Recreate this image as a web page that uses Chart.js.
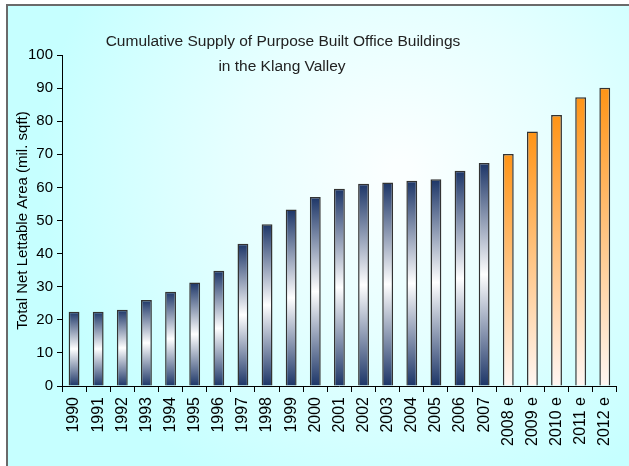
<!DOCTYPE html>
<html>
<head>
<meta charset="utf-8">
<script src="https://cdn.jsdelivr.net/npm/chart.js@4/dist/chart.umd.min.js"></script>
<style>
  body { margin: 0; background: #fff; }
  canvas { display: block; }
</style>
</head>
<body>
<canvas id="supplyChart" width="629" height="466"></canvas>
<script>
// categories and values (mil. sqft)
const years = ['1990', '1991', '1992', '1993', '1994', '1995', '1996', '1997', '1998', '1999',
    '2000', '2001', '2002', '2003', '2004', '2005', '2006', '2007',
    '2008 e', '2009 e', '2010 e', '2011 e', '2012 e'];
const supply = [22.4, 22.4, 23.0, 26.0, 28.5, 31.3, 34.8, 43.0, 48.9, 53.3,
    57.1, 59.6, 61.1, 61.5, 62.0, 62.5, 65.0, 67.4,
    70.1, 76.9, 81.9, 87.2, 90.1];
const titleLines = ['Cumulative Supply of Purpose Built Office Buildings', 'in the Klang Valley'];
const yTitle = 'Total Net Lettable Area (mil. sqft)';

// estimates are the ones marked with "e"
const estimated = years.map(y => y.endsWith('e'));

const fontFamily = '"Liberation Sans", Arial, sans-serif';
const navy = '#1c3567';
const orange = '#ff9416';

// gradient per bar: navy-white-navy for actuals, orange-white for estimates
function barFill(ctx) {
    const chart = ctx.chart;
    const y = chart.scales.y;
    if (!chart.chartArea || !y || ctx.raw === undefined) return navy;
    const top = y.getPixelForValue(ctx.raw);
    const base = y.getPixelForValue(0);
    const g = chart.ctx.createLinearGradient(0, top, 0, base);
    if (estimated[ctx.dataIndex]) {
        g.addColorStop(0, orange);
        g.addColorStop(1, '#fff6f2');
    } else {
        g.addColorStop(0, navy);
        g.addColorStop(0.5, '#ffffff');
        g.addColorStop(1, navy);
    }
    return g;
}

// background, frame and the two-line title
const framePlugin = {
    id: 'frame',
    beforeDraw(chart) {
        const c = chart.ctx;
        c.save();
        c.fillStyle = '#ffffff';
        c.fillRect(0, 0, chart.width, chart.height);
        const g = c.createRadialGradient(400, 170, 10, 400, 170, 360);
        g.addColorStop(0, '#fbffff');
        g.addColorStop(0.45, '#e6ffff');
        g.addColorStop(1, '#c6ffff');
        c.fillStyle = g;
        c.fillRect(7, 5, chart.width - 7, chart.height - 5);
        c.strokeStyle = '#6a6a6a';
        c.lineWidth = 2;
        c.beginPath();
        c.moveTo(7, chart.height);
        c.lineTo(7, 5);
        c.lineTo(chart.width, 5);
        c.stroke();
        c.restore();
    },
    afterDraw(chart) {
        const c = chart.ctx;
        c.save();
        c.fillStyle = '#222';
        c.font = '15.5px ' + fontFamily;
        c.textAlign = 'center';
        c.textBaseline = 'middle';
        c.fillText(titleLines[0], 283, 42);
        c.fillText(titleLines[1], 282, 67);
        c.restore();
    }
};

new Chart(document.getElementById('supplyChart'), {
    type: 'bar',
    data: {
        labels: years,
        datasets: [{
            data: supply,
            backgroundColor: barFill,
            borderColor: '#333',
            borderWidth: 1.5,
            barPercentage: 0.45,
            categoryPercentage: 1
        }]
    },
    options: {
        responsive: false,
        animation: false,
        devicePixelRatio: 1,
        layout: { padding: { top: 55, left: 0, right: 1, bottom: 0 } },
        plugins: {
            legend: { display: false },
            tooltip: { enabled: false }
        },
        scales: {
            x: {
                afterFit: scale => { scale.height = 80; },
                grid: { display: true, drawOnChartArea: false, offset: true, color: '#000', tickLength: 6 },
                border: { color: '#000', width: 1 },
                ticks: {
                    color: '#000',
                    font: { family: fontFamily, size: 16 },
                    minRotation: 90,
                    maxRotation: 90,
                    autoSkip: false,
                    padding: 5
                }
            },
            y: {
                min: 0,
                max: 100,
                afterFit: scale => { scale.width = 62; },
                grid: { display: true, drawOnChartArea: false, color: '#000', tickLength: 5 },
                border: { color: '#000', width: 1 },
                ticks: {
                    stepSize: 10,
                    color: '#000',
                    font: { family: fontFamily, size: 15 },
                    padding: 4
                },
                title: {
                    display: true,
                    text: yTitle,
                    color: '#000',
                    font: { family: fontFamily, size: 15 },
                    padding: { top: 14, bottom: 0 }
                }
            }
        }
    },
    plugins: [framePlugin]
});
</script>
</body>
</html>
